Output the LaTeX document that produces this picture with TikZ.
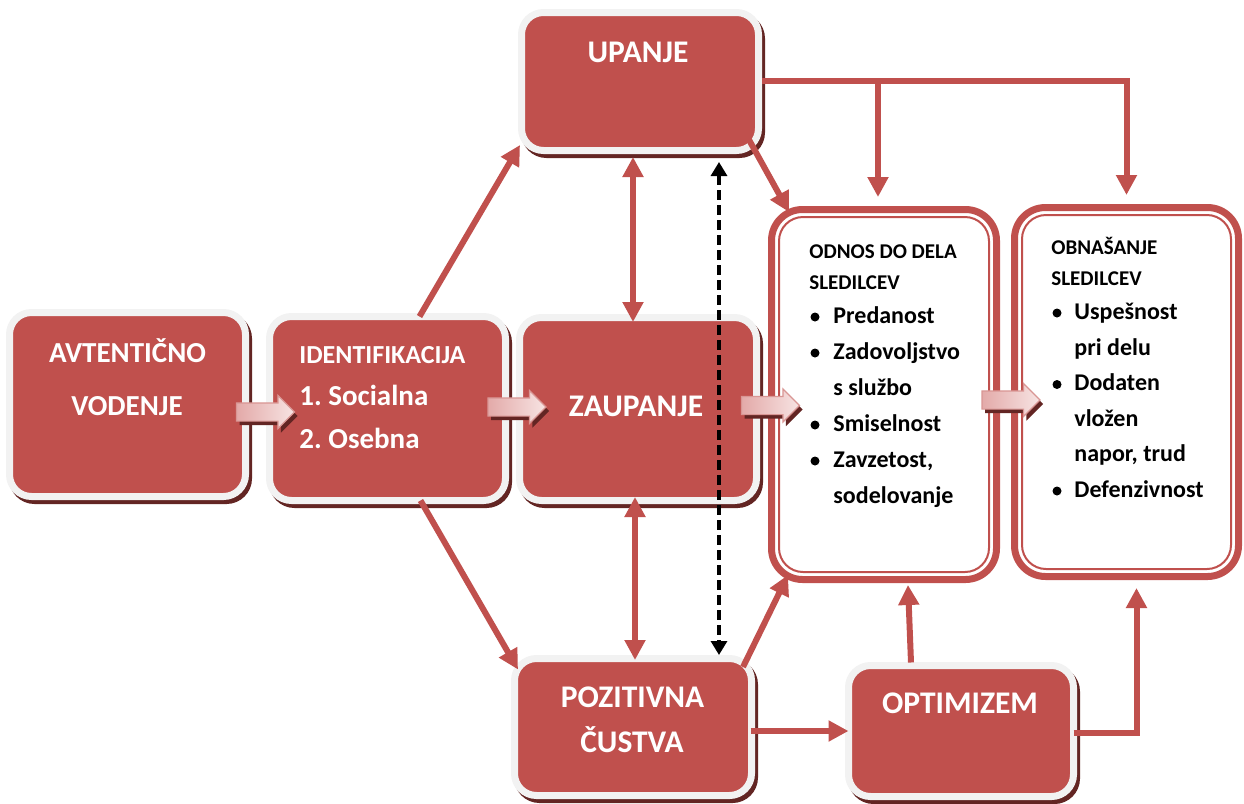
\documentclass[tikz,border=0pt]{standalone}
\usepackage{fontspec}
\setmainfont{Carlito}
\usetikzlibrary{arrows.meta,calc,shapes.arrows}
\definecolor{boxred}{HTML}{C0504D}
\definecolor{boxborder}{HTML}{F2F2F2}
\definecolor{shadowred}{HTML}{632523}
\definecolor{arrowL}{HTML}{E3AAA9}
\definecolor{arrowR}{HTML}{F7E4E3}
\definecolor{arrowdraw}{HTML}{D99694}
\frenchspacing
\begin{document}
\begin{tikzpicture}[x=0.5pt,y=-0.5pt,
  box/.style={rectangle, rounded corners=11pt, draw=boxborder, line width=3.5pt, fill=boxred,
    inner sep=0pt, outer sep=0pt,
    preaction={draw=shadowred, fill=shadowred, line width=3.5pt, transform canvas={xshift=1.5pt,yshift=-2pt}}},
  dbox/.style={rectangle, rounded corners=15.5pt, draw=boxred, line width=3.5pt, fill=white,
    inner sep=0pt, outer sep=0pt},
  innerline/.style={draw=boxred, line width=1pt, rounded corners=12pt},
  wt/.style={text=white, inner sep=0pt, anchor=base},
  wtA/.style={wt, font=\fontsize{14.5}{17}\selectfont\bfseries},
  wtS/.style={wt, font=\fontsize{13}{15}\selectfont\bfseries},
  wtB/.style={wt, font=\fontsize{15.75}{18}\selectfont\bfseries},
  hdr/.style={anchor=base west, inner sep=0pt, font=\fontsize{10.5}{12}\selectfont\bfseries},
  itm/.style={anchor=base west, inner sep=0pt, font=\fontsize{12}{14}\selectfont\bfseries},
  bul/.style={circle, fill=black, inner sep=0pt, minimum size=4.5pt},
  barrow/.style={single arrow, minimum height=29pt, inner xsep=0pt, inner ysep=4.25pt,
    single arrow head extend=3.75pt, single arrow head indent=0pt, outer sep=0pt,
    draw=arrowdraw, line width=0.6pt,
    left color=arrowL, right color=arrowR,
    preaction={fill=shadowred, transform canvas={xshift=1.5pt,yshift=-2pt}}},
  redarrow/.style={draw=boxred, line width=3pt, -{Triangle[width=10pt,length=10pt]}},
  redboth/.style={draw=boxred, line width=3pt, {Triangle[width=10pt,length=10pt]}-{Triangle[width=10pt,length=10pt]}},
  dasharrow/.style={draw=black, line width=1.6pt, dash pattern=on 5pt off 2.5pt,
    {Triangle[width=8pt,length=7pt]}-{Triangle[width=8pt,length=7pt]}}
]
\useasboundingbox (0,0) rectangle (1244,804);

% boxes
\node[box, minimum width=118pt, minimum height=92pt] (avt) at (127.5,404.5) {};
\node[box, minimum width=118pt, minimum height=92pt] (ident) at (387.5,408.5) {};
\node[box, minimum width=118.5pt, minimum height=91.5pt] (zaup) at (638,409) {};
\node[box, minimum width=118.5pt, minimum height=69pt] (upanje) at (640,81.5) {};
\node[box, minimum width=118.5pt, minimum height=68.5pt] (poz) at (633,727) {};
\node[box, minimum width=112.5pt, minimum height=65.5pt] (optim) at (961,731) {};
\node[dbox, minimum width=112.5pt, minimum height=185pt] (odnos) at (884,394.5) {};
\node[dbox, minimum width=112pt, minimum height=184.5pt] (obn) at (1126.5,392) {};
\draw[innerline] ($(odnos.north west)+(7.5,7.5)$) rectangle ($(odnos.south east)+(-7.5,-7.5)$);
\draw[innerline] ($(obn.north west)+(7.5,7.5)$) rectangle ($(obn.south east)+(-7.5,-7.5)$);

% connectors
\draw[redarrow] ($(ident.north)+(32,0)$) -- ($(upanje.south west)+(-1.5,-5.5)$);
\draw[redarrow] ($(ident.south)+(33,0)$) -- ($(poz.north west)+(3.5,11)$);
\draw[redboth] ($(upanje.south)+(-7,6.5)$) -- ($(zaup.north)+(-5,4.5)$);
\draw[redboth] ($(zaup.south)+(-3,-3.5)$) -- ($(poz.north)+(2,1.5)$);
\draw[dasharrow] ($(upanje.south)+(79,11.5)$) -- ($(poz.north)+(86,-3.5)$);
\draw[redarrow] ($(upanje.south east)+(-10.5,-12.5)$) -- ($(odnos.north west)+(17.5,2.5)$);
\coordinate (t1) at ($(odnos.north)+(-6,-12.5)$);
\coordinate (t2) at ($(obn.north)+(0,-12.5)$);
\coordinate (s1) at ($(upanje.east)+(3.5,-1)$);
\draw[redarrow] (s1) -| (t2);
\draw[redarrow] (t1 |- s1) -- (t1);
\draw[redarrow] ($(poz.north east)+(-8.5,8.5)$) -- ($(odnos.south west)+(16.5,-4.5)$);
\draw[redarrow] ($(poz.east)+(-1,4)$) -- (optim.west);
\draw[redarrow] ($(optim.north)+(-50,-3)$) -- ($(odnos.south)+(24,5.5)$);
\coordinate (t3) at ($(obn.south)+(10,11.5)$);
\draw[redarrow] ($(optim.east)+(0,2)$) -| (t3);

% block arrows
\node[barrow] (ba1) at (261,412) {};
\node[barrow] (ba2) at (512.5,407) {};
\node[barrow] (ba3) at (766,405.5) {};
\node[barrow] (ba4) at (1006.5,400) {};

% texts in red boxes
\node[wtA] (avt1) at (127.5,362) {AVTENTIČNO};
\node[wtA] (avt2) at (127,415) {VODENJE};
\node[wtS, anchor=base west] (id1) at (299,363) {IDENTIFIKACIJA};
\node[wtA, anchor=base west] (id2) at (299,405) {1. Socialna};
\node[wtA, anchor=base west] (id3) at (299,448) {2. Osebna};
\node[wtB] (up1) at (638,62) {UPANJE};
\node[wtB] (za1) at (636,416) {ZAUPANJE};
\node[wtB] (po1) at (632.5,707) {POZITIVNA};
\node[wtB] (po2) at (632,752) {ČUSTVA};
\node[wtB] (op1) at (960,713) {OPTIMIZEM};

% ODNOS DO DELA SLEDILCEV
\node[hdr] (od1) at (809,258) {ODNOS DO DELA};
\node[hdr] (od2) at (809,289) {SLEDILCEV};
\node[bul] (odb1) at (815,317) {};
\node[itm] (odi1) at (833,323) {Predanost};
\node[bul] (odb2) at (815,353) {};
\node[itm] (odi2) at (833,359) {Zadovoljstvo};
\node[itm] (odi3) at (833,395) {s službo};
\node[bul] (odb3) at (815,425) {};
\node[itm] (odi4) at (833,431) {Smiselnost};
\node[bul] (odb4) at (815,461) {};
\node[itm] (odi5) at (833,467) {Zavzetost,};
\node[itm] (odi6) at (833,503) {sodelovanje};

% OBNASANJE SLEDILCEV
\node[hdr] (ob1) at (1051,254) {OBNAŠANJE};
\node[hdr] (ob2) at (1051,285) {SLEDILCEV};
\node[bul] (obb1) at (1057,313) {};
\node[itm] (obi1) at (1074,319) {Uspešnost};
\node[itm] (obi2) at (1074,355) {pri delu};
\node[bul] (obb2) at (1057,384.5) {};
\node[itm] (obi3) at (1074,390.5) {Dodaten};
\node[itm] (obi4) at (1074,426) {vložen};
\node[itm] (obi5) at (1074,461.5) {napor, trud};
\node[bul] (obb3) at (1057,491) {};
\node[itm] (obi6) at (1074,497) {Defenzivnost};
\end{tikzpicture}
\end{document}
